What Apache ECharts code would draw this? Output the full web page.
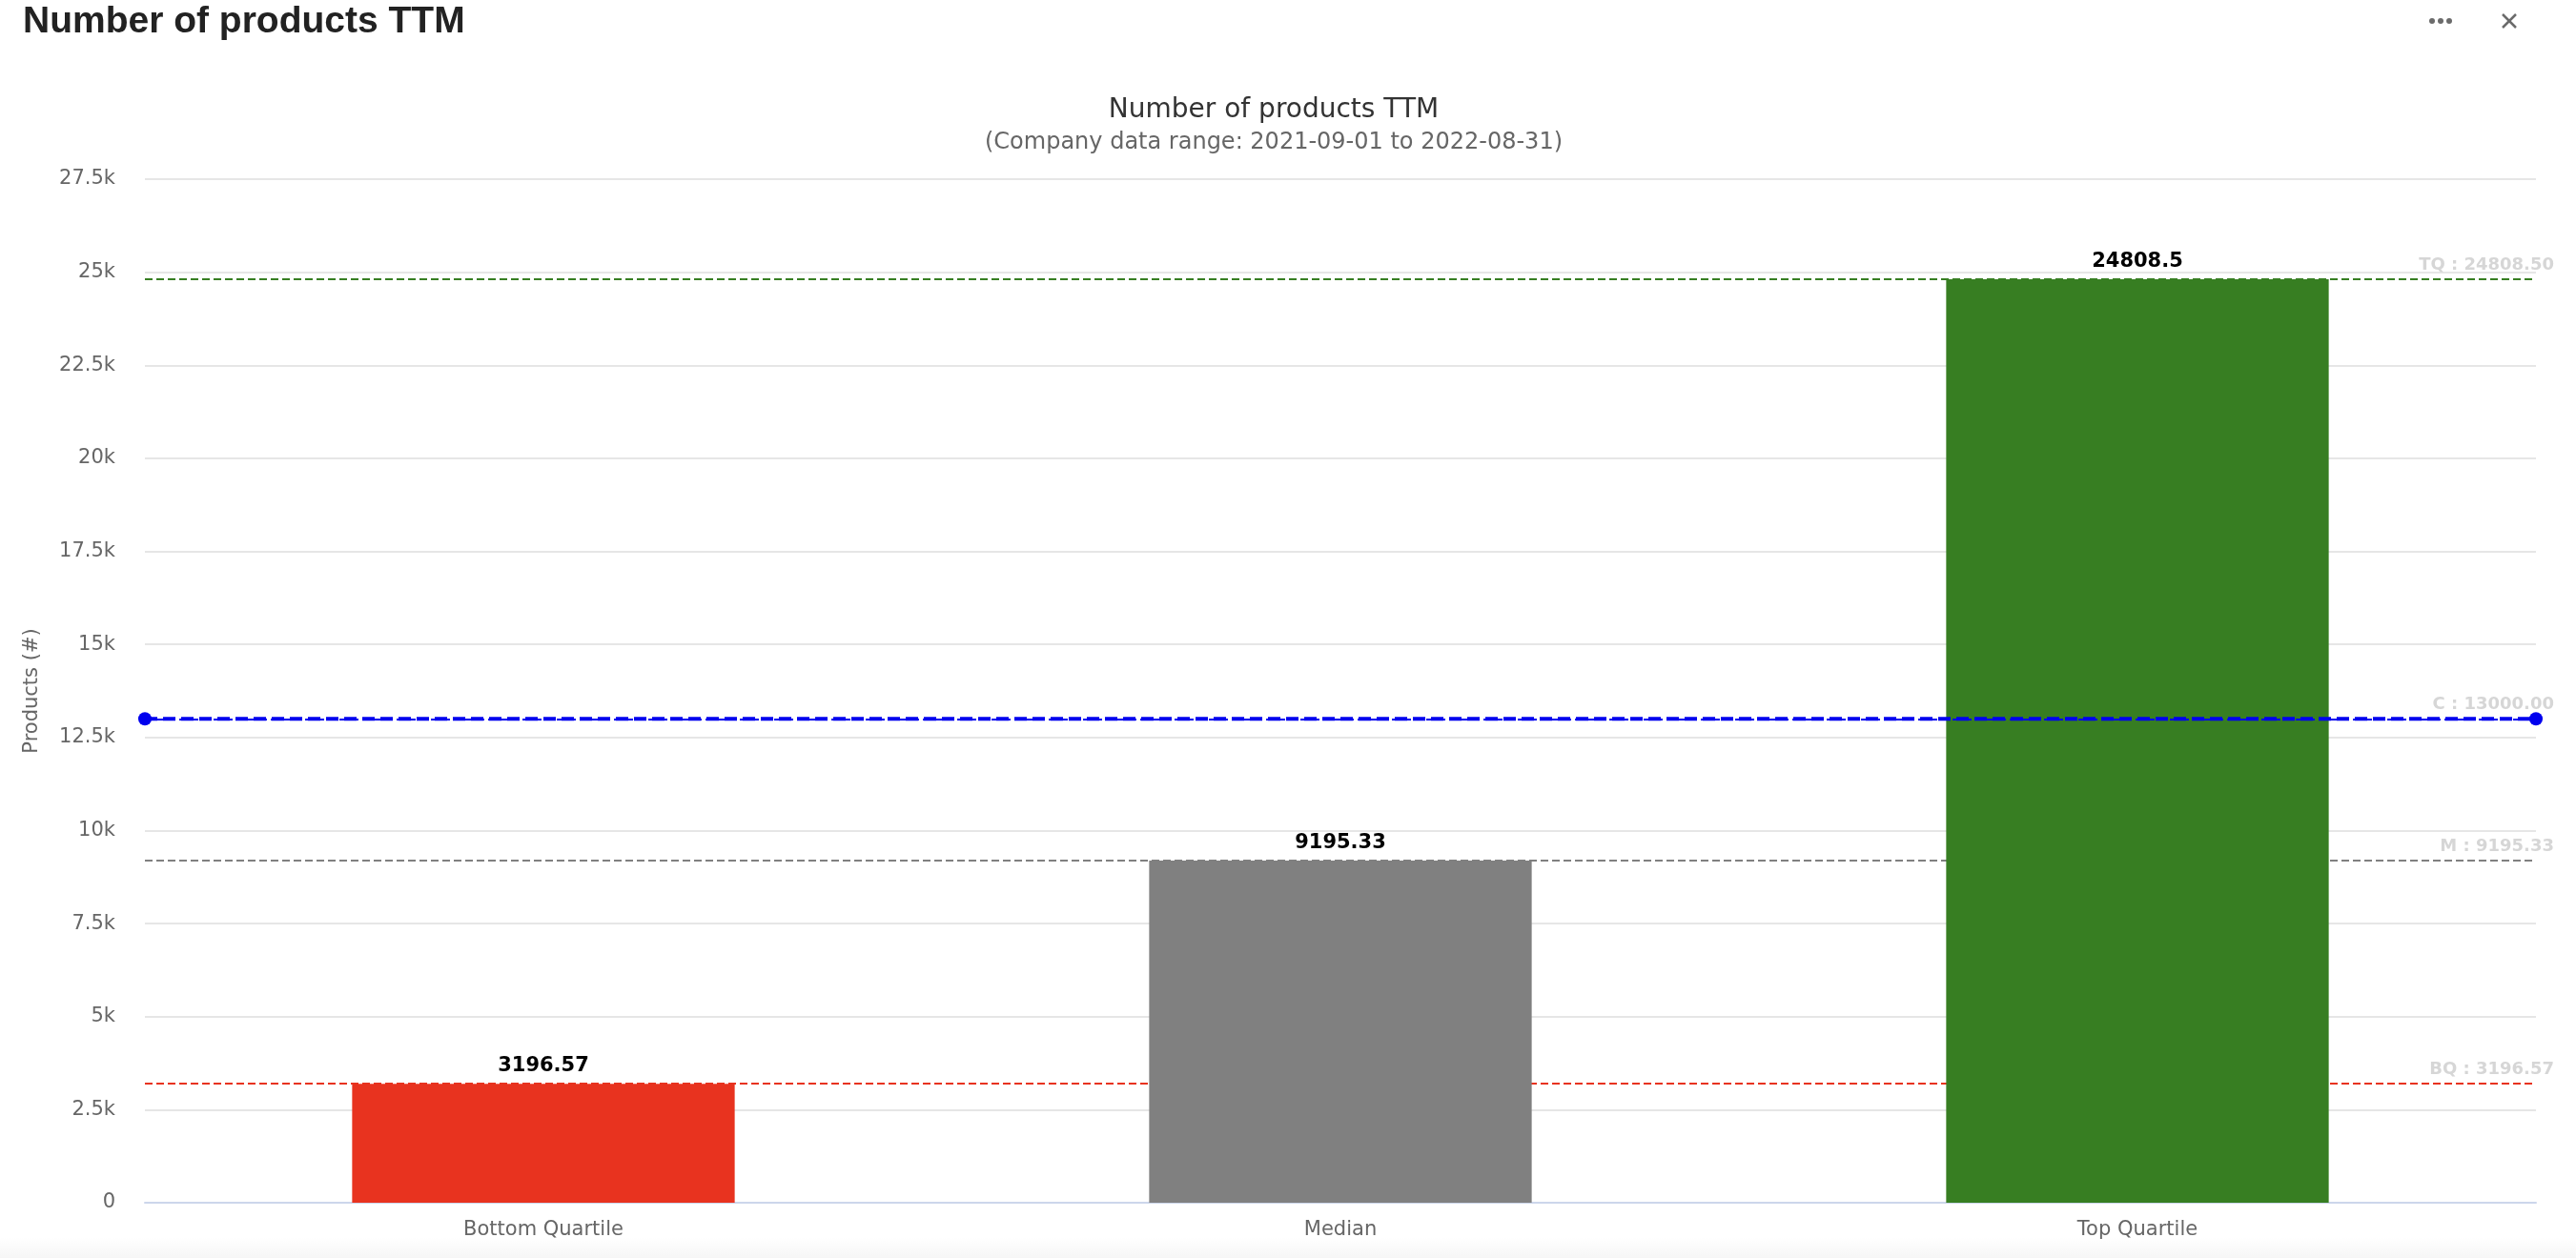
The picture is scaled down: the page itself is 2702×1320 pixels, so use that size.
<!DOCTYPE html>
<html>
<head>
<meta charset="utf-8">
<title>Number of products TTM</title>
<script src="https://cdn.jsdelivr.net/npm/echarts@6/dist/echarts.min.js"></script>
<style>
  html, body { margin: 0; padding: 0; background: #ffffff; }
  #chart { width: 2702px; height: 1320px; }
</style>
</head>
<body>
<div id="chart"></div>
<script>
// Quartile benchmarks and the company's own figure
const categories = ['Bottom Quartile', 'Median', 'Top Quartile'];
const values = [3196.57, 9195.33, 24808.5];
const barColors = ['#e8331f', '#808080', '#377e22'];
const refLineNames = ['BQ', 'M', 'TQ'];
const companyName = 'C';
const companyValue = 13000;
const companyColor = '#0000ee';

// Value axis range
const yMin = 0;
const yMax = 27500;
const yInterval = 2500;

const FONT = '"DejaVu Sans", "Noto Sans", sans-serif';

const chart = echarts.init(document.getElementById('chart'), null, { renderer: 'canvas' });

// Dashed reference lines at each benchmark (drawn beneath the bars)
const benchmarkLines = values.map((v, i) => ({
  yAxis: v,
  lineStyle: { color: barColors[i] },
  label: { formatter: refLineNames[i] + ' : ' + v.toFixed(2) }
}));

const refLabelStyle = {
  position: 'insideEndTop',
  distance: 6,
  offset: [25, 0],
  color: '#d6d6d6',
  fontWeight: 'bold',
  fontSize: 18,
  fontFamily: FONT
};

const option = {
  backgroundColor: '#ffffff',
  animation: false,
  textStyle: { fontFamily: FONT },
  grid: { left: 152, right: 42, top: 188, bottom: 58, containLabel: false },
  xAxis: [
    {
      type: 'category',
      data: categories,
      axisLine: { lineStyle: { color: '#ccd6eb', width: 2 } },
      axisTick: { show: false },
      axisLabel: { color: '#666666', fontSize: 21, margin: 18, fontFamily: FONT }
    },
    {
      // helper axis so the company line runs edge to edge
      type: 'category',
      data: ['start', 'end'],
      boundaryGap: false,
      show: false
    }
  ],
  yAxis: {
    type: 'value',
    min: yMin,
    max: yMax,
    interval: yInterval,
    name: 'Products (#)',
    nameLocation: 'middle',
    nameGap: 108,
    nameTextStyle: { color: '#666666', fontSize: 21, fontFamily: FONT },
    axisLine: { show: false },
    axisTick: { show: false },
    splitLine: { lineStyle: { color: '#e6e6e6', width: 2 } },
    axisLabel: {
      color: '#666666',
      fontSize: 21,
      margin: 31,
      fontFamily: FONT,
      formatter: v => (v === 0 ? '0' : (v / 1000) + 'k')
    }
  },
  series: [
    {
      type: 'bar',
      z: 2,
      barWidth: '48%',
      data: values.map((v, i) => ({ value: v, itemStyle: { color: barColors[i] } })),
      label: {
        show: true,
        position: 'top',
        distance: 8,
        color: '#000000',
        fontWeight: 'bold',
        fontSize: 21,
        fontFamily: FONT
      },
      markLine: {
        z: 1,
        silent: true,
        symbol: ['none', 'none'],
        lineStyle: { type: [8, 4], width: 2 },
        label: refLabelStyle,
        data: benchmarkLines
      }
    },
    {
      type: 'line',
      xAxisIndex: 1,
      z: 4,
      data: [companyValue, companyValue],
      symbol: 'circle',
      symbolSize: 14,
      itemStyle: { color: companyColor },
      lineStyle: { color: companyColor, width: 4, type: [13, 6] },
      markLine: {
        z: 4,
        silent: true,
        symbol: ['none', 'none'],
        lineStyle: { color: companyColor, type: [8, 4], width: 2 },
        label: refLabelStyle,
        data: [{ yAxis: companyValue, label: { formatter: companyName + ' : ' + companyValue.toFixed(2) } }]
      }
    }
  ],
  graphic: [
    // page header
    {
      type: 'text',
      left: 24,
      top: 4,
      style: {
        text: 'Number of products TTM',
        fill: '#222222',
        font: 'bold 39px "Liberation Sans", Arial, sans-serif'
      }
    },
    // overflow menu dots
    { type: 'circle', shape: { cx: 2551, cy: 22, r: 3 }, style: { fill: '#6b6b6b' } },
    { type: 'circle', shape: { cx: 2560, cy: 22, r: 3 }, style: { fill: '#6b6b6b' } },
    { type: 'circle', shape: { cx: 2569, cy: 22, r: 3 }, style: { fill: '#6b6b6b' } },
    // close button
    { type: 'line', shape: { x1: 2625, y1: 15, x2: 2639, y2: 29 }, style: { stroke: '#6b6b6b', lineWidth: 2.5 } },
    { type: 'line', shape: { x1: 2639, y1: 15, x2: 2625, y2: 29 }, style: { stroke: '#6b6b6b', lineWidth: 2.5 } },
    // chart title and subtitle
    {
      type: 'text',
      x: 1336,
      y: 116,
      style: {
        text: 'Number of products TTM',
        fill: '#333333',
        align: 'center',
        verticalAlign: 'middle',
        font: '28px "DejaVu Sans", sans-serif'
      }
    },
    {
      type: 'text',
      x: 1336,
      y: 150,
      style: {
        text: '(Company data range: 2021-09-01 to 2022-08-31)',
        fill: '#666666',
        align: 'center',
        verticalAlign: 'middle',
        font: '24px "DejaVu Sans", sans-serif'
      }
    },
    // soft shadow along the bottom edge of the card
    {
      type: 'rect',
      silent: true,
      shape: { x: 0, y: 1298, width: 2702, height: 22 },
      style: {
        fill: new echarts.graphic.LinearGradient(0, 0, 0, 1, [
          { offset: 0, color: 'rgba(0,0,0,0)' },
          { offset: 1, color: 'rgba(0,0,0,0.035)' }
        ])
      }
    }
  ]
};

chart.setOption(option);
</script>
</body>
</html>
